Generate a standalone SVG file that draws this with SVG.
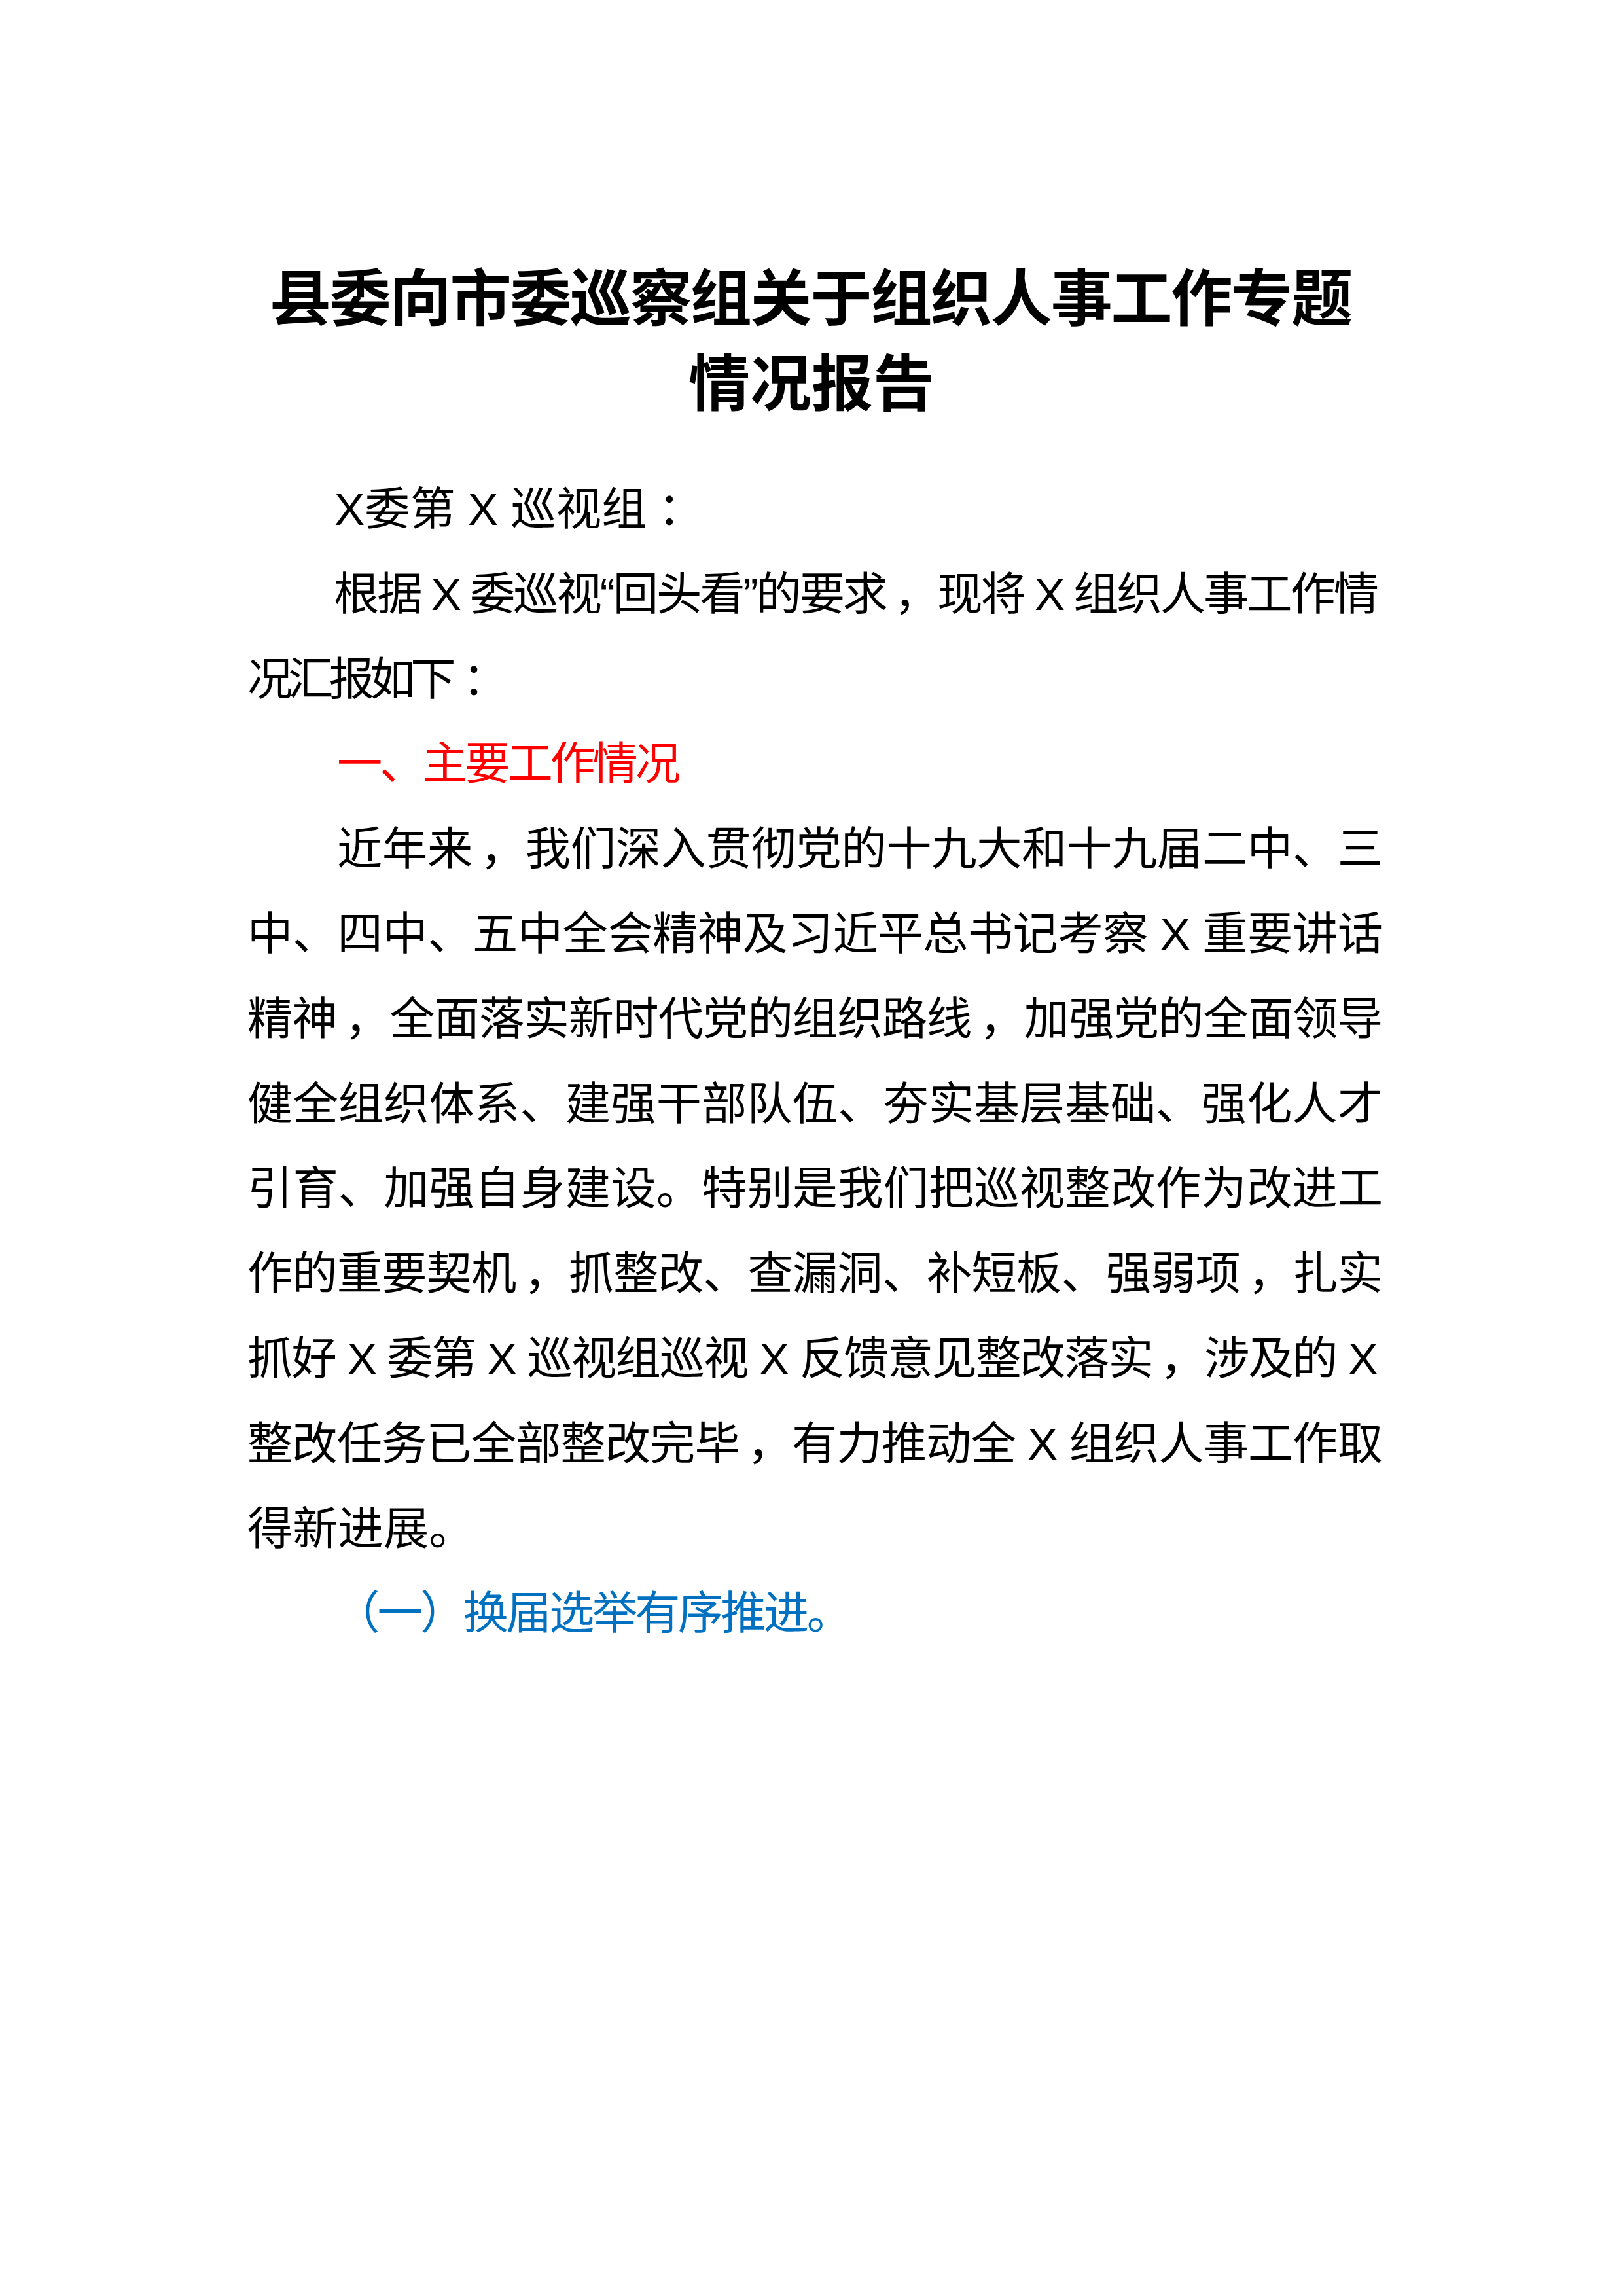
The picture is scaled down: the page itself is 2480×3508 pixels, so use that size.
<svg xmlns="http://www.w3.org/2000/svg" width="2480" height="3508" viewBox="0 0 2480 3508">
<style>
.title{font-family:"Noto Sans CJK SC","Liberation Sans",sans-serif;font-weight:700;font-size:94px;fill:#000}
.body{font-family:"Liberation Sans","Noto Sans CJK SC",sans-serif;font-size:69.3px;fill:#000}
.red{fill:#FF0000}
.blue{fill:#0070C0}
</style>
<rect x="0" y="0" width="2480" height="3508" fill="#FFFFFF"/>
<g id="title">
<text class="title" x="412" y="490" textLength="1655" lengthAdjust="spacing">县委向市委巡察组关于组织人事工作专题</text>
<text class="title" x="1240" y="620" text-anchor="middle">情况报告</text>
</g>
<g id="body">
<text class="body" x="511" y="802" xml:space="preserve">X委第 X 巡视组<tspan dx="17">：</tspan></text>
<text class="body" x="510" y="932" textLength="1597" lengthAdjust="spacing" xml:space="preserve">根据 X 委巡视“回头看”的要求<tspan dx="12">，</tspan>现将 X 组织人事工作情</text>
<text class="body" x="378" y="1062" textLength="398" lengthAdjust="spacing">况汇报如下<tspan dx="17">：</tspan></text>
<text class="body red" x="515" y="1191" textLength="525" lengthAdjust="spacing">一、主要工作情况</text>
<text class="body" x="515" y="1321" textLength="1598" lengthAdjust="spacing">近年来<tspan dx="12">，</tspan>我们深入贯彻党的十九大和十九届二中、三</text>
<text class="body" x="378" y="1451" textLength="1735" lengthAdjust="spacing" xml:space="preserve">中、四中、五中全会精神及习近平总书记考察 X 重要讲话</text>
<text class="body" x="378" y="1581" textLength="1735" lengthAdjust="spacing">精神<tspan dx="12">，</tspan>全面落实新时代党的组织路线<tspan dx="12">，</tspan>加强党的全面领导</text>
<text class="body" x="378" y="1711" textLength="1735" lengthAdjust="spacing">健全组织体系、建强干部队伍、夯实基层基础、强化人才</text>
<text class="body" x="378" y="1840" textLength="1735" lengthAdjust="spacing">引育、加强自身建设。特别是我们把巡视整改作为改进工</text>
<text class="body" x="378" y="1970" textLength="1735" lengthAdjust="spacing">作的重要契机<tspan dx="12">，</tspan>抓整改、查漏洞、补短板、强弱项<tspan dx="12">，</tspan>扎实</text>
<text class="body" x="378" y="2100" textLength="1728" lengthAdjust="spacing" xml:space="preserve">抓好 X 委第 X 巡视组巡视 X 反馈意见整改落实<tspan dx="12">，</tspan>涉及的 X</text>
<text class="body" x="378" y="2230" textLength="1735" lengthAdjust="spacing" xml:space="preserve">整改任务已全部整改完毕<tspan dx="12">，</tspan>有力推动全 X 组织人事工作取</text>
<text class="body" x="378" y="2360">得新进展。</text>
<text class="body blue" x="511" y="2489" textLength="791" lengthAdjust="spacing">（一）换届选举有序推进。</text>
</g>
</svg>
